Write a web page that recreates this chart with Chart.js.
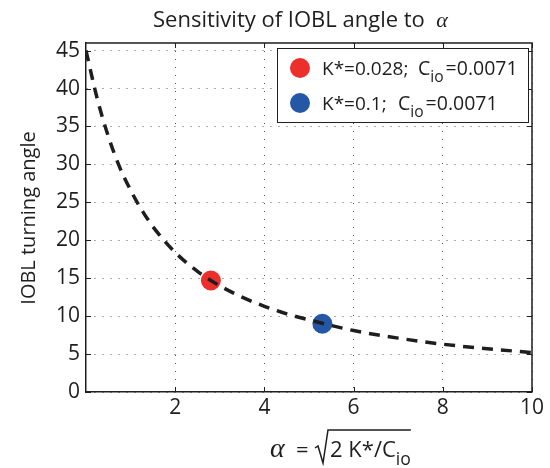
<!DOCTYPE html>
<html>
<head>
<meta charset="utf-8">
<script src="https://cdn.jsdelivr.net/npm/chart.js@4.4.1/dist/chart.umd.min.js"></script>
<style>
  html, body { margin: 0; padding: 0; background: #fff; }
</style>
</head>
<body>
<canvas id="chart" width="550" height="468"></canvas>
<script>
// curve
const alphaValues = [0, 0.25, 0.5, 0.75, 1, 1.25, 1.5, 2, 2.5, 3, 3.5, 4, 4.5, 5, 6, 7, 8, 9, 10];
const angleValues = [45, 38.7, 33.7, 29.7, 26.6, 24.0, 21.8, 18.4, 15.9, 14.0, 12.5, 11.3, 10.3, 9.5, 8.1, 7.1, 6.3, 5.7, 5.2];

// the two marked cases
const pointAlpha = [2.8, 5.3];
const pointAngle = [14.7, 9.0];
const legendK = ['0.028', '0.1'];
const legendC = ['0.0071', '0.0071'];

const xTicks = [2, 4, 6, 8, 10];
const yTicks = [0, 5, 10, 15, 20, 25, 30, 35, 40, 45];

const FONT = '"Open Sans", "DejaVu Sans", sans-serif';
const SERIF = '"Liberation Serif", serif';
const pointColors = ['#ec2f2a', '#2457a5'];
const ink = '#1e1e1e';

// draws text pieces, some of them as subscripts, returns end x
function drawParts(ctx, parts, x, y, size) {
    let cx = x;
    parts.forEach(p => {
        const s = p.sub ? size * 0.8 : size;
        ctx.font = (p.italic ? 'italic ' : '') + s + 'px ' + (p.family || FONT);
        const dy = p.sub ? size * 0.38 : 0;
        ctx.fillText(p.text, cx, y + dy);
        cx += ctx.measureText(p.text).width + (p.gap || 0);
    });
    return cx;
}

const decorPlugin = {
    id: 'decor',
    afterDraw(chart) {
        const ctx = chart.ctx;
        const area = chart.chartArea;
        const xs = chart.scales.x, ys = chart.scales.y;
        ctx.save();

        // frame, top and right
        ctx.strokeStyle = ink;
        ctx.lineWidth = 1.5;
        ctx.beginPath();
        ctx.moveTo(area.left, area.top);
        ctx.lineTo(area.right, area.top);
        ctx.lineTo(area.right, area.bottom);
        ctx.stroke();

        // inward ticks
        ctx.lineWidth = 1;
        ctx.beginPath();
        xTicks.forEach(v => {
            const px = Math.round(xs.getPixelForValue(v)) + 0.5;
            ctx.moveTo(px, area.bottom); ctx.lineTo(px, area.bottom - 5);
            ctx.moveTo(px, area.top); ctx.lineTo(px, area.top + 5);
        });
        yTicks.forEach(v => {
            const py = Math.round(ys.getPixelForValue(v)) + 0.5;
            ctx.moveTo(area.left, py); ctx.lineTo(area.left + 5, py);
            ctx.moveTo(area.right, py); ctx.lineTo(area.right - 5, py);
        });
        ctx.stroke();

        ctx.fillStyle = ink;
        ctx.textBaseline = 'alphabetic';
        ctx.textAlign = 'left';

        // title
        drawParts(ctx, [
            {text: 'Sensitivity of IOBL angle to  '},
            {text: 'α', italic: true, family: SERIF}
        ], 153, 27, 22);

        // y title
        ctx.save();
        ctx.translate(35, 218);
        ctx.rotate(-Math.PI / 2);
        ctx.font = '20px ' + FONT;
        ctx.textAlign = 'center';
        ctx.fillText('IOBL turning angle', 0, 0);
        ctx.restore();

        // x title: alpha = sqrt(2 K*/C_io)
        const by = 457;
        ctx.font = 'italic 28px ' + SERIF;
        ctx.fillText('α', 270, by);
        ctx.font = '22px ' + FONT;
        ctx.fillText('=', 296, by);
        const rx = 315;
        const endX = drawParts(ctx, [
            {text: '2 K*/C'},
            {text: 'io', sub: true}
        ], 330, by, 22);
        ctx.lineWidth = 1.5;
        ctx.beginPath();
        ctx.moveTo(rx, by - 9);
        ctx.lineTo(rx + 3, by - 11);
        ctx.lineTo(rx + 8, by + 6);
        ctx.lineTo(rx + 13, by - 27);
        ctx.lineTo(endX, by - 27);
        ctx.stroke();

        // legend
        const lx = 277, ly = 48, lw = 251, lh = 74;
        ctx.fillStyle = '#fff';
        ctx.fillRect(lx, ly, lw, lh);
        ctx.strokeStyle = ink;
        ctx.lineWidth = 1;
        ctx.strokeRect(lx + 0.5, ly + 0.5, lw, lh);
        const cX = [418, 398];
        legendK.forEach((k, i) => {
            const cy = 68 + i * 35;
            ctx.fillStyle = pointColors[i];
            ctx.beginPath();
            ctx.arc(300, cy, 10, 0, Math.PI * 2);
            ctx.fill();
            ctx.fillStyle = ink;
            drawParts(ctx, [{text: 'K*=' + k + ';'}], 322, cy + 7, 19);
            drawParts(ctx, [
                {text: 'C'},
                {text: 'io', sub: true, gap: 2},
                {text: '=' + legendC[i]}
            ], cX[i], cy + 7, 19.5);
        });

        ctx.restore();
    }
};

const curveData = alphaValues.map((a, i) => ({x: a, y: angleValues[i]}));

const chartConfig = {
    type: 'scatter',
    data: {
        datasets: [
            {
                label: 'curve',
                data: curveData,
                showLine: true,
                borderColor: ink,
                borderWidth: 3.5,
                borderDash: [11, 8],
                pointRadius: 0,
                cubicInterpolationMode: 'monotone',
                fill: false
            },
            {
                label: 'K*=0.028',
                data: [{x: pointAlpha[0], y: pointAngle[0]}],
                backgroundColor: pointColors[0],
                borderWidth: 0,
                pointRadius: 10
            },
            {
                label: 'K*=0.1',
                data: [{x: pointAlpha[1], y: pointAngle[1]}],
                backgroundColor: pointColors[1],
                borderWidth: 0,
                pointRadius: 10
            }
        ]
    },
    options: {
        responsive: false,
        animation: false,
        layout: {padding: {top: 43, right: 18, left: 0, bottom: 0}},
        plugins: {
            legend: {display: false},
            title: {display: false},
            tooltip: {enabled: false}
        },
        scales: {
            x: {
                type: 'linear',
                min: 0,
                max: 10,
                afterBuildTicks: s => { s.ticks = xTicks.map(v => ({value: v})); },
                afterFit: s => { s.height = 76; },
                ticks: {
                    color: ink,
                    padding: 3,
                    font: {family: FONT, size: 21}
                },
                grid: {color: '#555', lineWidth: 1, drawTicks: false},
                border: {display: true, color: ink, width: 1.5, dash: [1, 7]}
            },
            y: {
                type: 'linear',
                min: 0,
                max: 46,
                afterBuildTicks: s => { s.ticks = yTicks.map(v => ({value: v})); },
                afterFit: s => { s.width = 86; },
                ticks: {
                    color: ink,
                    padding: 6,
                    font: {family: FONT, size: 21}
                },
                grid: {color: '#555', lineWidth: 1, drawTicks: false},
                border: {display: true, color: ink, width: 1.5, dash: [1, 7]}
            }
        }
    },
    plugins: [decorPlugin]
};

new Chart(document.getElementById('chart'), chartConfig);
</script>
</body>
</html>
